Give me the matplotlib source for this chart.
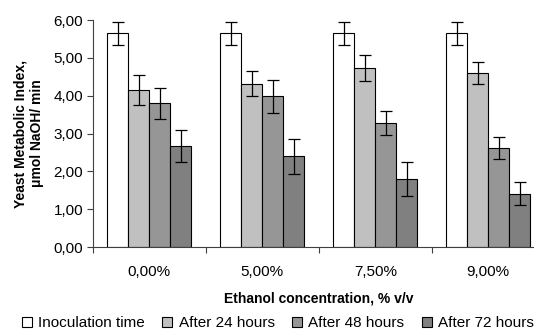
import matplotlib.pyplot as plt
import numpy as np

plt.rcParams['font.family'] = ['Liberation Sans', 'DejaVu Sans']

# data
concentrations = ['0,00%', '5,00%', '7,50%', '9,00%']
series = ['Inoculation time', 'After 24 hours', 'After 48 hours', 'After 72 hours']
values = [
    [5.65, 5.65, 5.65, 5.65],
    [4.15, 4.32, 4.74, 4.60],
    [3.80, 3.98, 3.28, 2.62],
    [2.68, 2.40, 1.80, 1.41],
]
errors = [
    [0.30, 0.30, 0.30, 0.30],
    [0.40, 0.34, 0.34, 0.30],
    [0.41, 0.44, 0.31, 0.30],
    [0.42, 0.46, 0.45, 0.31],
]
colors = ['#ffffff', '#c0c0c0', '#969696', '#808080']

fig = plt.figure(figsize=(5.34, 3.29), dpi=100)
ax = fig.add_axes([0.174, 0.249, 0.846, 0.690])

x = np.arange(len(concentrations))
w = 0.186
for i, (vals, errs, c, name) in enumerate(zip(values, errors, colors, series)):
    offs = (i - 1.5) * w
    ax.bar(x + offs, vals, w, color=c, edgecolor='black', linewidth=0.8, label=name,
           yerr=errs, capsize=4, error_kw=dict(elinewidth=0.9, capthick=0.9, ecolor='black'))

ax.set_xlim(-0.5, 3.5)
ax.set_ylim(0, 6)
ax.set_yticks(np.arange(0, 7, 1))
ax.set_yticklabels([f'{v:.2f}'.replace('.', ',') for v in range(7)], fontsize=11)
ax.set_xticks(x)
ax.set_xticklabels(concentrations, fontsize=11)
ax.set_xticks(np.arange(-0.5, 4, 1), minor=True)
ax.tick_params(axis='x', which='major', length=0, pad=13)
ax.tick_params(axis='x', which='minor', length=4, width=0.8, color='#404040')
ax.tick_params(axis='y', length=4, width=0.8, color='#404040', pad=3)
for s in ['top', 'right']:
    ax.spines[s].set_visible(False)
for s in ['left', 'bottom']:
    ax.spines[s].set_color('#404040')
    ax.spines[s].set_linewidth(0.8)

ax.set_xlabel('Ethanol concentration, % v/v', fontsize=10, fontweight='bold', labelpad=9)
ax.set_ylabel('Yeast Metabolic Index,\nμmol NaOH/ min', fontsize=10, fontweight='bold', labelpad=7)

fig.legend(loc='lower left', bbox_to_anchor=(0.03, -0.022), ncol=4, frameon=False,
           fontsize=11, handlelength=0.65, handleheight=0.65, handletextpad=0.4,
           columnspacing=1.15, borderaxespad=0)

fig.savefig('out.png', dpi=100)
